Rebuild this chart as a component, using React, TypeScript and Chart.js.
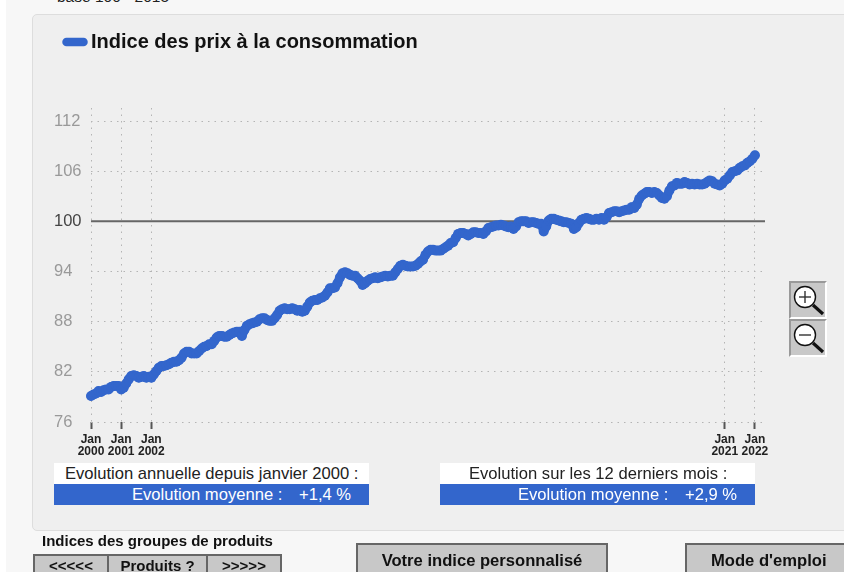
import React, { useEffect, useRef } from "react";
import { Chart, registerables } from "chart.js";

Chart.register(...registerables);

const seriesName = "Indice des prix à la consommation";
const y2000 = [79.1, 79.3, 79.4, 79.7, 79.6, 79.8, 79.9, 79.9, 80.2, 80.3, 80.3, 80.3];
const y2001 = [79.9, 80.1, 80.6, 81.1, 81.5, 81.6, 81.5, 81.3, 81.4, 81.5, 81.3, 81.4];
const y2002 = [81.3, 81.7, 82.1, 82.5, 82.7, 82.7, 82.8, 82.9, 83.1, 83.2, 83.2, 83.4];
const y2003 = [83.7, 84.2, 84.4, 84.4, 84.2, 84.2, 84.2, 84.5, 84.8, 85.0, 85.1, 85.3];
const y2004 = [85.3, 85.7, 86.1, 86.3, 86.3, 86.2, 86.2, 86.4, 86.6, 86.7, 86.8, 86.8];
const y2005 = [86.3, 87.0, 87.5, 87.7, 87.8, 87.9, 88.0, 88.3, 88.4, 88.4, 88.2, 88.1];
const y2006 = [88.1, 88.4, 88.8, 89.3, 89.5, 89.6, 89.5, 89.5, 89.6, 89.5, 89.3, 89.4];
const y2007 = [89.2, 89.3, 89.8, 90.3, 90.5, 90.6, 90.6, 90.8, 90.9, 91.1, 91.5, 92.0];
const y2008 = [92.0, 92.1, 92.6, 93.3, 93.8, 93.9, 93.8, 93.6, 93.5, 93.5, 93.2, 92.9];
const y2009 = [92.4, 92.6, 92.9, 93.1, 93.2, 93.3, 93.2, 93.3, 93.4, 93.5, 93.4, 93.5];
const y2010 = [93.5, 93.9, 94.3, 94.7, 94.8, 94.7, 94.6, 94.6, 94.6, 94.7, 94.9, 95.2];
const y2011 = [95.4, 96.0, 96.4, 96.6, 96.6, 96.5, 96.5, 96.5, 96.7, 96.9, 97.1, 97.4];
const y2012 = [97.5, 98.0, 98.5, 98.6, 98.6, 98.5, 98.3, 98.5, 98.7, 98.7, 98.6, 98.6];
const y2013 = [98.5, 98.8, 99.2, 99.3, 99.4, 99.5, 99.5, 99.6, 99.5, 99.4, 99.3, 99.4];
const y2014 = [99.1, 99.4, 99.9, 100.0, 100.0, 100.0, 99.8, 99.9, 99.9, 99.8, 99.7, 99.7];
const y2015 = [98.8, 99.4, 100.1, 100.3, 100.3, 100.2, 100.1, 100.0, 99.9, 99.9, 99.8, 99.7];
const y2016 = [99.1, 99.3, 99.8, 100.2, 100.3, 100.4, 100.3, 100.2, 100.2, 100.3, 100.2, 100.4];
const y2017 = [100.2, 100.5, 101.0, 101.1, 101.2, 101.2, 101.1, 101.2, 101.3, 101.4, 101.4, 101.7];
const y2018 = [101.6, 102.0, 102.7, 103.1, 103.3, 103.5, 103.5, 103.4, 103.5, 103.4, 103.1, 102.8];
const y2019 = [102.7, 103.0, 103.7, 104.2, 104.3, 104.6, 104.5, 104.5, 104.7, 104.6, 104.4, 104.5];
const y2020 = [104.4, 104.5, 104.4, 104.4, 104.5, 104.7, 104.9, 104.8, 104.5, 104.4, 104.3, 104.5];
const y2021 = [104.9, 105.1, 105.5, 105.9, 106.0, 106.1, 106.4, 106.6, 106.7, 107.0, 107.2, 107.5];
const y2022 = [107.9];

const indexValues = [
  ...y2000, ...y2001, ...y2002, ...y2003, ...y2004, ...y2005, ...y2006, ...y2007,
  ...y2008, ...y2009, ...y2010, ...y2011, ...y2012, ...y2013, ...y2014, ...y2015,
  ...y2016, ...y2017, ...y2018, ...y2019, ...y2020, ...y2021, ...y2022,
];

const xTickMonths = [0, 12, 24, 252, 264];
const xTickLabels = [["Jan", "2000"], ["Jan", "2001"], ["Jan", "2002"], ["Jan", "2021"], ["Jan", "2022"]];
const yTickValues = [76, 82, 88, 94, 100, 106, 112];
const baseMonths = [0, 268];
const baseValues = [100, 100];

const BLUE = "#3366cc";
const ARIAL = "Arial, 'Liberation Sans', sans-serif";
const DOTS = [1.5, 5];

function box(left: number, top: number, width: number, height: number, extra: React.CSSProperties = {}): React.CSSProperties {
  return { position: "absolute", left, top, width, height, boxSizing: "border-box", ...extra };
}

function Zoom({ top, plus }: { top: number; plus: boolean }) {
  return (
    <div style={box(789, top, 38, 38, { background: "#c8c8c8", borderTop: "2px solid #999", borderLeft: "2px solid #999", borderRight: "2px solid #fff", borderBottom: "2px solid #fff" })}>
      <svg width="34" height="34" style={{ position: "absolute", left: 0, top: 0 }}>
        <circle cx="14" cy="14" r="10.5" fill="#fff" stroke="#111" strokeWidth="1.4" />
        <line x1="8" y1="14" x2="20" y2="14" stroke="#333" strokeWidth="1.4" />
        {plus && <line x1="14" y1="8" x2="14" y2="20" stroke="#333" strokeWidth="1.4" />}
        <line x1="22" y1="22" x2="32" y2="31" stroke="#111" strokeWidth="3.2" />
      </svg>
    </div>
  );
}

export default function App() {
  const ref = useRef<HTMLCanvasElement>(null);
  useEffect(() => {
    if (!ref.current) return;
    const swatch = document.createElement("canvas");
    swatch.width = 26;
    swatch.height = 10;
    const s = swatch.getContext("2d")!;
    s.strokeStyle = BLUE;
    s.lineWidth = 8.5;
    s.lineCap = "round";
    s.beginPath();
    s.moveTo(4.5, 5);
    s.lineTo(21.5, 5);
    s.stroke();

    const chart = new Chart(ref.current, {
      type: "line",
      data: {
        datasets: [
          {
            label: seriesName,
            data: indexValues.map((y, i) => ({ x: i, y })),
            borderColor: BLUE,
            backgroundColor: BLUE,
            borderWidth: 9,
            pointRadius: 5,
            pointBorderWidth: 0,
            borderCapStyle: "round",
            borderJoinStyle: "round",
            tension: 0,
            clip: false,
          },
          {
            label: "base",
            data: baseMonths.map((x, i) => ({ x, y: baseValues[i] })),
            borderColor: "#666666",
            borderWidth: 2,
            pointRadius: 0,
          },
        ],
      },
      options: {
        animation: false,
        responsive: false,
        layout: { padding: { left: 54, right: 79, top: 63, bottom: 106 } },
        plugins: {
          tooltip: { enabled: false },
          legend: {
            position: "top",
            align: "start",
            labels: {
              filter: (item: any) => item.text === seriesName,
              usePointStyle: true,
              pointStyle: swatch as any,
              pointStyleWidth: 12,
              padding: 15,
              color: "#111111",
              font: { family: ARIAL, size: 20, weight: "bold" },
            },
          },
        },
        scales: {
          x: {
            type: "linear",
            min: 0,
            max: 268,
            afterBuildTicks: (scale: any) => {
              scale.ticks = xTickMonths.map((value) => ({ value }));
            },
            afterFit: (scale: any) => {
              scale.height = 44;
            },
            border: { display: false, dash: DOTS },
            grid: {
              color: "#b4b4b4",
              lineWidth: 1,
              tickColor: "#555555",
              tickLength: 7,
              tickWidth: 2,
              tickBorderDash: [],
            } as any,
            ticks: {
              autoSkip: false,
              maxRotation: 0,
              padding: 4,
              color: "#222222",
              font: { family: ARIAL, size: 12, weight: "bold", lineHeight: 1.05 },
              callback: (v: any) => xTickLabels[xTickMonths.indexOf(Number(v))],
            },
          },
          y: {
            type: "linear",
            min: 76,
            max: 113.56,
            afterBuildTicks: (scale: any) => {
              scale.ticks = yTickValues.map((value) => ({ value }));
            },
            afterFit: (scale: any) => {
              scale.width = 37;
            },
            border: { display: false, dash: DOTS },
            grid: { color: "#b4b4b4", drawTicks: false } as any,
            ticks: {
              crossAlign: "far",
              padding: 0,
              font: { family: ARIAL, size: 16.5 },
              color: (c: any) => (c.tick.value === 100 ? "#444444" : "#999999"),
            },
          },
        },
      },
      plugins: [
        {
          id: "legendTop",
          afterLayout(c: any) {
            const h = c.legend.bottom - c.legend.top;
            c.legend.top = 17;
            c.legend.bottom = 17 + h;
          },
        },
      ],
    } as any);
    return () => chart.destroy();
  }, []);

  const btn: React.CSSProperties = {
    background: "#c8c8c8",
    border: "2px solid #666",
    fontWeight: "bold",
    textAlign: "center",
    color: "#111",
  };
  const row: React.CSSProperties = { fontSize: 16.6, lineHeight: "21px", whiteSpace: "pre" };

  return (
    <div style={{ position: "fixed", left: 0, top: 0, width: 844, height: 572, overflow: "hidden", background: "#fff", fontFamily: ARIAL }}>
      <div style={box(6, 0, 838, 572, { background: "#f7f7f7" })} />
      <div style={box(57, -12, 200, 18, { fontSize: 15.5, color: "#222", whiteSpace: "nowrap" })}>base 100 - 2015</div>
      <div style={box(32, 14, 830, 517, { background: "#efefef", border: "1px solid #dddddd", borderRadius: 5 })} />

      <canvas ref={ref} width={844} height={572} style={{ position: "absolute", left: 0, top: 0, display: "block" }} />

      <div style={box(54, 463, 315, 21, { ...row, background: "#fff", color: "#222" })}>
        <span style={{ position: "absolute", left: 11 }}>Evolution annuelle depuis janvier 2000 :</span>
      </div>
      <div style={box(54, 484, 315, 21, { ...row, background: BLUE, color: "#fff" })}>
        <span style={{ position: "absolute", left: 78 }}>Evolution moyenne :</span>
        <span style={{ position: "absolute", left: 245 }}>+1,4 %</span>
      </div>
      <div style={box(440, 463, 315, 21, { ...row, background: "#fff", color: "#222" })}>
        <span style={{ position: "absolute", left: 29 }}>Evolution sur les 12 derniers mois :</span>
      </div>
      <div style={box(440, 484, 315, 21, { ...row, background: BLUE, color: "#fff" })}>
        <span style={{ position: "absolute", left: 78 }}>Evolution moyenne :</span>
        <span style={{ position: "absolute", left: 245 }}>+2,9 %</span>
      </div>

      <Zoom top={281} plus={true} />
      <Zoom top={319} plus={false} />

      <div style={box(42, 532, 240, 18, { fontSize: 15, fontWeight: "bold", color: "#111", whiteSpace: "nowrap" })}>Indices des groupes de produits</div>
      <div style={box(33, 554, 76, 30, { ...btn, fontSize: 15, lineHeight: "20px" })}>&lt;&lt;&lt;&lt;&lt;</div>
      <div style={box(107, 554, 101, 30, { ...btn, fontSize: 15, lineHeight: "20px" })}>Produits ?</div>
      <div style={box(206, 554, 76, 30, { ...btn, fontSize: 15, lineHeight: "20px" })}>&gt;&gt;&gt;&gt;&gt;</div>
      <div style={box(356, 543, 252, 40, { ...btn, fontSize: 16.6, lineHeight: "32px" })}>Votre indice personnalisé</div>
      <div style={box(685, 543, 168, 40, { ...btn, fontSize: 16.6, lineHeight: "32px", textAlign: "left", paddingLeft: 24 })}>Mode d'emploi</div>
    </div>
  );
}
